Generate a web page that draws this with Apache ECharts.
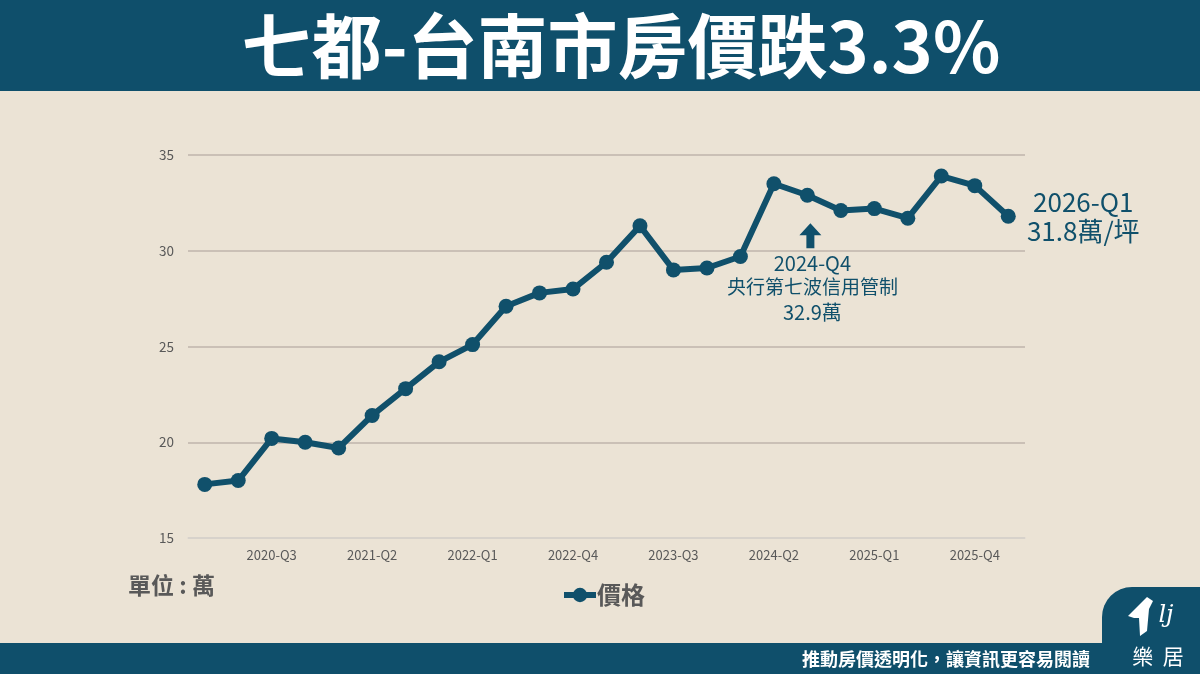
<!DOCTYPE html>
<html>
<head>
<meta charset="utf-8">
<script src="https://cdn.jsdelivr.net/npm/echarts@6/dist/echarts.min.js"></script>
<style>
html,body{margin:0;padding:0;background:#ebe3d5;}
#c{width:1200px;height:674px;}
</style>
</head>
<body>
<div id="c"></div>
<script>
const categories = ['2020-Q1','2020-Q2','2020-Q3','2020-Q4','2021-Q1','2021-Q2','2021-Q3','2021-Q4',
  '2022-Q1','2022-Q2','2022-Q3','2022-Q4','2023-Q1','2023-Q2','2023-Q3','2023-Q4',
  '2024-Q1','2024-Q2','2024-Q3','2024-Q4','2025-Q1','2025-Q2','2025-Q3','2025-Q4','2026-Q1'];
const prices = [17.8,18.0,20.2,20.0,19.7,21.4,22.8,24.2,25.1,27.1,27.8,28.0,29.4,31.3,29.0,29.1,
  29.7,33.5,32.9,32.1,32.2,31.7,33.9,33.4,31.8];
const yTicks = [15,20,25,30,35];
const seriesName = '價格';
const titleText = '七都-台南市房價跌3.3%';
const unitText = '單位 : 萬';
const footerText = '推動房價透明化，讓資訊更容易閱讀';
const noteIndex = 18;
const noteLines = ['2024-Q4','央行第七波信用管制','32.9萬'];
const lastLines = ['2026-Q1','31.8萬/坪'];

const FONT = '"Noto Sans CJK TC","Noto Sans",sans-serif';
const TEAL = '#10506b';
const GRAY = '#595959';

const chart = echarts.init(document.getElementById('c'), null, {renderer:'canvas'});

const baseOption = {
  backgroundColor: '#ebe3d5',
  textStyle: {fontFamily: FONT},
  grid: {left:188, right:175, top:155, bottom:136},
  xAxis: {
    type:'category', data: categories, boundaryGap:true,
    axisTick:{show:false},
    axisLine:{show:true, lineStyle:{color:'#dcd8d2', width:1.5}},
    axisLabel:{color:GRAY, fontSize:13, margin:11, fontFamily:FONT,
      interval:(i)=> i % 3 === 2}
  },
  yAxis: {
    type:'value', min:yTicks[0], max:yTicks[yTicks.length-1], interval:5,
    axisLine:{show:false}, axisTick:{show:false},
    axisLabel:{color:GRAY, fontSize:13.5, margin:14, fontFamily:FONT},
    splitLine:{lineStyle:{color:'#bfb4ab', width:1.5}}
  },
  legend: {
    data:[seriesName], left:556, top:578, itemWidth:32, itemHeight:18, itemGap:2,
    lineStyle:{width:6, color:TEAL}, itemStyle:{color:TEAL},
    textStyle:{color:GRAY, fontSize:24, fontFamily:FONT, fontWeight:'bold', padding:[0,0,0,-4]}
  },
  series: [{
    name: seriesName, type:'line', data: prices,
    symbol:'circle', symbolSize:15, showSymbol:true,
    lineStyle:{color:TEAL, width:6}, itemStyle:{color:TEAL},
    emphasis:{disabled:true}, animation:false, z:5
  }],
  animation:false
};
chart.setOption(baseOption);

const pNote = chart.convertToPixel({seriesIndex:0}, [noteIndex, prices[noteIndex]]);
const last = prices.length-1;
const pLast = chart.convertToPixel({seriesIndex:0}, [last, prices[last]]);
const ax = pNote[0] + 3;

const graphics = [
  // header band
  {type:'rect', shape:{x:0,y:0,width:1200,height:91}, style:{fill:'#0f4f6b'}, z:1},
  {type:'text', x:621, y:46, z:2, style:{text:titleText, fill:'#ffffff', font:'bold 70px '+FONT,
    textAlign:'center', textVerticalAlign:'middle', shadowColor:'rgba(0,0,0,0.55)', shadowBlur:4, shadowOffsetX:2, shadowOffsetY:2}},
  // footer band
  {type:'rect', shape:{x:0,y:643,width:1200,height:31}, style:{fill:'#0f4f6b'}, z:1},
  {type:'rect', shape:{x:1102,y:587,width:98,height:70, r:[30,0,0,0]}, style:{fill:'#0f4f6b'}, z:1},
  {type:'text', x:1090, y:659, z:2, style:{text:footerText, fill:'#ffffff', font:'bold 18px '+FONT,
    textAlign:'right', textVerticalAlign:'middle'}},
  {type:'text', x:1158, y:656, z:2, style:{text:'樂  居', fill:'#ffffff', font:'21px '+FONT,
    textAlign:'center', textVerticalAlign:'middle'}},
  // logo house
  {type:'polygon', z:2, shape:{points:[[1128,616],[1147,597],[1153,601],[1149,609],[1147,631],[1140,636],[1139,618],[1134,618]]}, style:{fill:'#ffffff'}},
  {type:'text', x:1166, y:616, z:2, style:{text:'lj', fill:'#ffffff', font:'italic 24px "DejaVu Serif",serif',
    textAlign:'center', textVerticalAlign:'middle'}},
  // unit
  {type:'text', x:128, y:585, z:2, style:{text:unitText, fill:GRAY, font:'bold 23px '+FONT,
    textAlign:'left', textVerticalAlign:'middle'}},
  // arrow
  {type:'polygon', z:6, shape:{points:[[ax,pNote[1]+28],[ax+11,pNote[1]+40],[ax+4,pNote[1]+40],[ax+4,pNote[1]+53],
    [ax-4,pNote[1]+53],[ax-4,pNote[1]+40],[ax-11,pNote[1]+40]]}, style:{fill:TEAL}},
  {type:'text', x:ax+2, y:pNote[1]+68, z:6, style:{text:noteLines[0], fill:TEAL, font:'20px '+FONT,
    textAlign:'center', textVerticalAlign:'middle'}},
  {type:'text', x:ax+2, y:pNote[1]+92, z:6, style:{text:noteLines[1], fill:TEAL, font:'19px '+FONT,
    textAlign:'center', textVerticalAlign:'middle'}},
  {type:'text', x:ax+2, y:pNote[1]+117, z:6, style:{text:noteLines[2], fill:TEAL, font:'20px '+FONT,
    textAlign:'center', textVerticalAlign:'middle'}},
  // last point label
  {type:'text', x:pLast[0]+75, y:pLast[1]-14, z:6, style:{text:lastLines[0], fill:TEAL, font:'26px '+FONT,
    textAlign:'center', textVerticalAlign:'middle'}},
  {type:'text', x:pLast[0]+75, y:pLast[1]+15, z:6, style:{text:lastLines[1], fill:TEAL, font:'26px '+FONT,
    textAlign:'center', textVerticalAlign:'middle'}}
];
chart.setOption({graphic: graphics});
</script>
</body>
</html>
